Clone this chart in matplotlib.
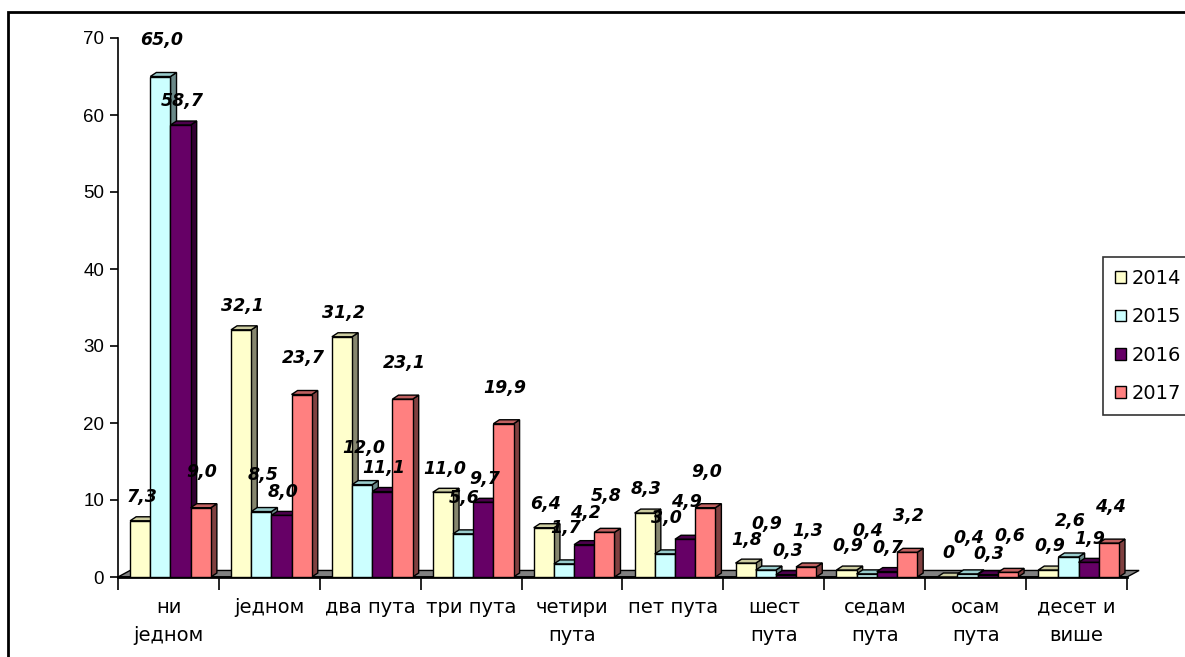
import matplotlib
matplotlib.use("Agg")
import matplotlib.pyplot as plt
from matplotlib.patches import Polygon, Rectangle, Patch

plt.rcParams['font.family'] = ['Liberation Sans', 'DejaVu Sans']

# data
categories = ["ни\nједном", "једном", "два пута", "три пута", "четири\nпута",
              "пет пута", "шест\nпута", "седам\nпута", "осам\nпута", "десет и\nвише"]
years = ["2014", "2015", "2016", "2017"]
v2014 = [7.3, 32.1, 31.2, 11.0, 6.4, 8.3, 1.8, 0.9, 0, 0.9]
v2015 = [65.0, 8.5, 12.0, 5.6, 1.7, 3.0, 0.9, 0.4, 0.4, 2.6]
v2016 = [58.7, 8.0, 11.1, 9.7, 4.2, 4.9, 0.3, 0.7, 0.3, 1.9]
v2017 = [9.0, 23.7, 23.1, 19.9, 5.8, 9.0, 1.3, 3.2, 0.6, 4.4]
label_text = [["7,3", "32,1", "31,2", "11,0", "6,4", "8,3", "1,8", "0,9", "0", "0,9"],
              ["65,0", "8,5", "12,0", "5,6", "1,7", "3,0", "0,9", "0,4", "0,4", "2,6"],
              ["58,7", "8,0", "11,1", "9,7", "4,2", "4,9", "0,3", "0,7", "0,3", "1,9"],
              ["9,0", "23,7", "23,1", "19,9", "5,8", "9,0", "1,3", "3,2", "0,6", "4,4"]]

series = [v2014, v2015, v2016, v2017]
face = ["#FFFFCC", "#CCFFFF", "#660066", "#FF8080"]
side = ["#86866E", "#6A8888", "#330033", "#804040"]
top = ["#CCCCA0", "#99CCCC", "#4C004C", "#C06060"]

W, H = 1185, 657
fig = plt.figure(figsize=(W / 100, H / 100), dpi=100)
ax = fig.add_axes([118 / W, (H - 577) / H, (1127 - 118) / W, (577 - 38) / H])
ax.set_xlim(0, 10)
ax.set_ylim(0, 70)

# 3d depth, in data units
bdx, bdy = 0.06, 0.52
fdx, fdy = 0.12, 0.85

# floor
floor = Polygon([(0, 0), (10, 0), (10 + fdx, fdy), (fdx, fdy)], closed=True,
                facecolor="#808080", edgecolor="black", lw=1, clip_on=False, zorder=1)
ax.add_patch(floor)
ax.plot([0, 10], [0, 0], color="black", lw=2, clip_on=False, zorder=1.5)

bw = 0.2
off = 0.12
z = 2
for i in range(len(categories)):
    for k, vals in enumerate(series):
        x0 = i + off + k * bw
        v = vals[i]
        ax.bar(x0, v, width=bw, align="edge", color=face[k], edgecolor="black",
               lw=1, zorder=z + 0.2)
        sd = Polygon([(x0 + bw, 0), (x0 + bw + bdx, bdy), (x0 + bw + bdx, v + bdy),
                      (x0 + bw, v)], closed=True, facecolor=side[k],
                     edgecolor="black", lw=1, zorder=z, clip_on=False)
        tp = Polygon([(x0, v), (x0 + bw, v), (x0 + bw + bdx, v + bdy),
                      (x0 + bdx, v + bdy)], closed=True, facecolor=top[k],
                     edgecolor="black", lw=1, zorder=z + 0.1, clip_on=False)
        ax.add_patch(sd)
        ax.add_patch(tp)
        z += 1

# axes styling
for s in ["top", "right", "bottom"]:
    ax.spines[s].set_visible(False)
ax.spines["left"].set_color("black")
ax.spines["left"].set_linewidth(1.2)
ax.set_yticks(range(0, 71, 10))
ax.tick_params(axis="y", length=6, width=1.2, labelsize=13.5, pad=4)

ax.set_xticks([i + 0.5 for i in range(10)])
ax.set_xticklabels(categories, fontsize=14, family="DejaVu Sans")
ax.set_xticks(range(11), minor=True)
ax.tick_params(axis="x", which="major", length=0, pad=15)
ax.tick_params(axis="x", which="minor", length=9, width=1.2, direction="out")
for t in ax.get_xticklabels():
    t.set_linespacing(1.6)

# value labels, staggered between neighbouring series
anns, tops = [], []
for i in range(len(categories)):
    for k, vals in enumerate(series):
        x0 = i + off + k * bw
        lift = 26 if k % 2 else 17
        a = ax.annotate(label_text[k][i], (x0 + bw / 2, vals[i]), xytext=(1, lift),
                        textcoords="offset points", ha="center", va="center",
                        family="DejaVu Sans", fontsize=12.5, fontweight="bold",
                        fontstyle="italic", zorder=200, annotation_clip=False)
        anns.append(a)
        tops.append(vals[i])

# shift each label the least amount needed to clear the ones already placed
fig.canvas.draw()
renderer = fig.canvas.get_renderer()


def overlaps(b, others):
    for o in others:
        if b.x0 < o.x1 - 2 and b.x1 > o.x0 + 2 and b.y0 < o.y1 - 3 and b.y1 > o.y0 + 3:
            return True
    return False


placed = []
for a, v in zip(anns, tops):
    base = a.xyann[1]
    bar_top = ax.transData.transform((0, v))[1]
    for step in sorted(range(-25, 61), key=abs):
        a.xyann = (1, base + step)
        bb = a.get_window_extent(renderer)
        if bb.y0 < bar_top + 2:
            continue
        if not overlaps(bb, placed):
            break
    placed.append(a.get_window_extent(renderer))

# legend
handles = [Patch(facecolor=face[k], edgecolor="black", lw=1, label=years[k]) for k in range(4)]
leg = fig.legend(handles=handles, loc="upper left", bbox_to_anchor=(1103 / W, 1 - 257 / H),
                 frameon=True, fancybox=False, prop={"family": "DejaVu Sans", "size": 14},
                 handlelength=0.55, handleheight=0.55, handletextpad=0.3,
                 labelspacing=0.99, borderpad=0.62, borderaxespad=0)
leg.get_frame().set_edgecolor("black")
leg.get_frame().set_linewidth(1.2)

# outer chart border
fig.add_artist(Rectangle((8 / W, -0.1), 2, 1.1 - 12 / H, transform=fig.transFigure,
                         fill=False, edgecolor="black", lw=2))

fig.savefig("out.png", dpi=100)
